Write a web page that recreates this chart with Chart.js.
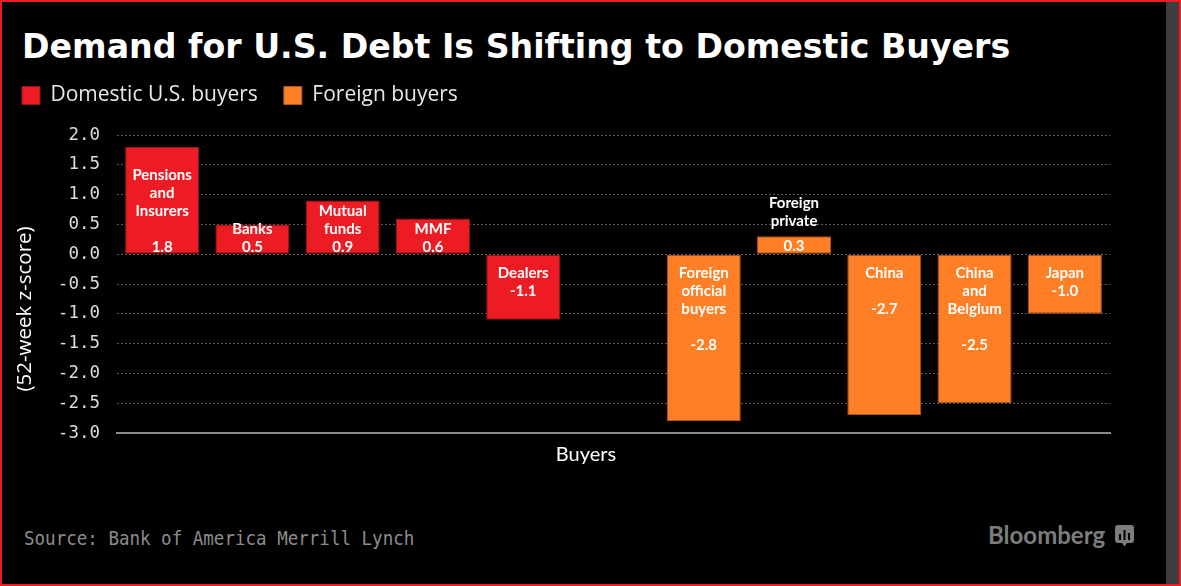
<!DOCTYPE html>
<html>
<head>
<meta charset="utf-8">
<title>Demand for U.S. Debt Is Shifting to Domestic Buyers</title>
<script src="https://cdn.jsdelivr.net/npm/chart.js@4.4.1/dist/chart.umd.min.js"></script>
<style>
  html, body { margin: 0; padding: 0; background: #000; }
  body { width: 1181px; height: 586px; position: relative; overflow: hidden; }
  #frame { position: absolute; left: 0; top: 0; width: 1177px; height: 582px; border: 2px solid #ed1c24; }
  #strip { position: absolute; left: 1166px; top: 2px; width: 13px; height: 582px; background: #3d3d3d; }
  h1 { position: absolute; left: 22px; top: 27px; margin: 0; line-height: 38px;
       font: bold 33.2px "DejaVu Sans"; color: #fff; white-space: nowrap; }
  #wrap { position: absolute; left: -4px; top: 59px; width: 1168px; height: 408px; }
  #source { position: absolute; left: 24px; top: 526px; line-height: 24px; font-size: 20px;
            font-family: "DejaVu Sans Mono"; color: #8c8c8c; white-space: nowrap;
            transform: scaleX(0.876); transform-origin: 0 0; }
  #brand { position: absolute; left: 988px; top: 520px; line-height: 28px;
           font: bold 24px Lato; color: #7c7c7c; white-space: nowrap; }
  #brand svg { position: absolute; left: 127px; top: 5px; }
</style>
</head>
<body>
<div id="frame"></div>
<div id="strip"></div>
<h1>Demand for U.S. Debt Is Shifting to Domestic Buyers</h1>
<div id="wrap"><canvas id="chart"></canvas></div>
<div id="source">Source: Bank of America Merrill Lynch</div>
<div id="brand">Bloomberg<svg width="19" height="22" viewBox="0 0 19 22">
  <path d="M3 0h13a3 3 0 0 1 3 3v12a3 3 0 0 1-3 3h-4l-2.5 3.5L7 18H3a3 3 0 0 1-3-3V3a3 3 0 0 1 3-3z" fill="#7c7c7c"/>
  <rect x="4" y="9" width="2" height="6" fill="#000"/>
  <rect x="8.5" y="5" width="2" height="10" fill="#000"/>
  <rect x="13" y="8" width="2" height="7" fill="#000"/>
</svg></div>
<script>
const categories = [
  "Pensions and Insurers", "Banks", "Mutual funds", "MMF", "Dealers", "",
  "Foreign official buyers", "Foreign private", "China", "China and Belgium", "Japan",
];
const domesticValues = [1.8, 0.5, 0.9, 0.6, -1.1, null, null, null, null, null, null];
const foreignValues = [null, null, null, null, null, null, -2.8, 0.3, -2.7, -2.5, -1.0];
// text written on each bar, "" keeps an empty line before the value
const barNameLines = [
  ["Pensions", "and", "Insurers", ""],
  ["Banks"],
  ["Mutual", "funds"],
  ["MMF"],
  ["Dealers"],
  [],
  ["Foreign", "official", "buyers", ""],
  ["Foreign", "private"],
  ["China", ""],
  ["China", "and", "Belgium", ""],
  ["Japan"],
];
const yMin = -3.0;
const yMax = 2.0;
const yStep = 0.5;
const yTitle = "(52-week z-score)";
const xTitle = "Buyers";

const red = "#ed1c24";
const orange = "#ff7f27";

const barLabels = {
  id: "barLabels",
  beforeInit(chart) {
    // gap between legend and plot like the original
    const fit = chart.legend.fit;
    chart.legend.fit = function () {
      fit.call(this);
      this.height = 76;
    };
  },
  afterDatasetsDraw(chart) {
    const ctx = chart.ctx;
    const zero = chart.scales.y.getPixelForValue(0);
    const step = 18;
    ctx.save();
    ctx.font = "bold 15px Lato";
    ctx.fillStyle = "#fff";
    ctx.textAlign = "center";
    ctx.textBaseline = "middle";
    chart.data.datasets.forEach((ds, di) => {
      const meta = chart.getDatasetMeta(di);
      ds.data.forEach((v, i) => {
        if (v === null) return;
        const bar = meta.data[i];
        const names = barNameLines[i];
        const lines = [...names, v.toFixed(1)];
        if (v < 0) {
          lines.forEach((t, k) => ctx.fillText(t, bar.x, zero + 19 + k * step));
        } else if (lines.length * 14 <= zero - bar.y) {
          lines.forEach((t, k) =>
            ctx.fillText(t, bar.x, zero - 7.5 - (lines.length - 1 - k) * step));
        } else {
          ctx.fillText(lines[lines.length - 1], bar.x, (zero + bar.y) / 2 + 1);
          names.forEach((t, k) =>
            ctx.fillText(t, bar.x, bar.y - 15 - (names.length - 1 - k) * step));
        }
      });
    });
    ctx.restore();
  },
  afterDraw(chart) {
    // axis titles sit off-centre in the original, so they are drawn here
    const ctx = chart.ctx;
    ctx.save();
    ctx.fillStyle = "#fff";
    ctx.textAlign = "center";
    ctx.textBaseline = "middle";
    ctx.font = "20px Lato";
    ctx.fillText(xTitle, 590, chart.chartArea.bottom + 22);
    ctx.translate(29, chart.chartArea.top + 174);
    ctx.rotate(-Math.PI / 2);
    ctx.font = "20.5px 'Open Sans'";
    ctx.fillText(yTitle, 0, 0);
    ctx.restore();
  },
};

new Chart(document.getElementById("chart"), {
  type: "bar",
  data: {
    labels: categories,
    datasets: [
      {
        label: "Domestic U.S. buyers",
        data: domesticValues,
        backgroundColor: red,
        borderColor: "#8e1a14",
        borderWidth: 1,
        borderSkipped: false,
        barPercentage: 0.82,
        categoryPercentage: 1,
      },
      {
        label: "Foreign buyers",
        data: foreignValues,
        backgroundColor: orange,
        borderColor: "#b2561a",
        borderWidth: 1,
        borderSkipped: false,
        barPercentage: 0.82,
        categoryPercentage: 1,
      },
    ],
  },
  options: {
    responsive: true,
    maintainAspectRatio: false,
    animation: false,
    layout: { padding: { left: 0, right: 54, top: 0, bottom: 34 } },
    plugins: {
      legend: {
        position: "top",
        align: "start",
        labels: {
          color: "#e8e8e8",
          font: { family: "Open Sans", size: 21 },
          boxWidth: 18,
          boxHeight: 18,
          padding: 26,
        },
      },
      tooltip: { enabled: false },
    },
    scales: {
      x: {
        stacked: true,
        grid: { display: false, drawTicks: false },
        ticks: { display: false },
        border: { display: true, color: "#8a8a8a", width: 2 },
      },
      y: {
        stacked: true,
        min: yMin,
        max: yMax,
        afterFit(scale) {
          scale.width = 121;
        },
        ticks: {
          stepSize: yStep,
          callback: (v) => v.toFixed(1),
          color: "#dcdcdc",
          font: { family: "DejaVu Sans Mono", size: 17.5 },
          padding: 17,
        },
        grid: { color: "#5c5c5c", lineWidth: 1, drawTicks: false },
        border: { display: false, dash: [2, 2] },
      },
    },
  },
  plugins: [barLabels],
});
</script>
</body>
</html>
